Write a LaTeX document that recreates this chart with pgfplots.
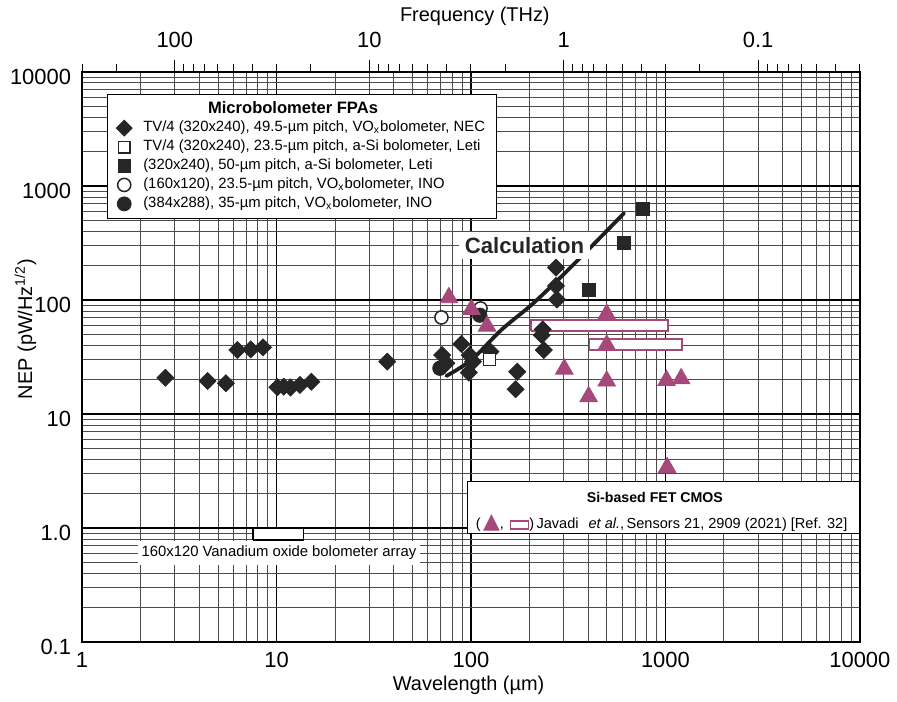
\documentclass[border=0pt]{standalone}
\usepackage{fontspec}
\setmainfont{Liberation Sans}
\newfontfamily\symfont{DejaVu Sans}
\usepackage{pgfplots}
\pgfplotsset{compat=1.18}
\definecolor{MarkBlack}{RGB}{38,38,40}
\definecolor{CmosPink}{RGB}{165,73,123}
\newcommand{\legfont}{\fontsize{7.45}{8.6}\selectfont}
\newcommand{\cmosfont}{\fontsize{7.3}{8.5}\selectfont}
\newcommand{\tickfont}{\fontsize{11}{13}\selectfont}

\begin{document}
\begin{tikzpicture}
\begin{axis}[
  name=main,
  set layers=standard,
  scale only axis, width=390pt, height=286pt,
  xmode=log, ymode=log,
  xmin=1, xmax=10000, ymin=0.1, ymax=10000,
  xtick={1,10,100,1000,10000}, xticklabels={1,10,100,1000,10000},
  ytick={0.1,1,10,100,1000,10000}, yticklabels={0.1,1.0,10,100,1000,10000},
  minor xtick={2,3,...,9,20,30,...,90,200,300,...,900,2000,3000,...,9000},
  minor ytick={0.2,0.3,0.4,0.5,0.6,0.7,0.8,0.9,2,3,...,9,20,30,...,90,200,300,...,900,2000,3000,...,9000},
  grid=both,
  major grid style={black, line width=0.9pt},
  minor grid style={black!70, line width=0.45pt},
  tick style={draw=none},
  axis line style={black, line width=0.8pt},
  tick label style={font=\tickfont},
  yticklabel style={yshift=-2.5pt},
  yticklabel shift=2pt,
  xticklabel shift=1.5pt,
  xlabel={Wavelength (µm)},
  ylabel={NEP (pW/Hz\textsuperscript{1/2})},
  label style={font=\fontsize{11}{13}\selectfont},
  every axis x label/.style={at={(axis description cs:0.497,-0.0752)}, anchor=center},
  every axis y label/.style={at={(axis description cs:-0.0728,0.549)}, rotate=90, anchor=center},
  legend image code/.code={\draw[#1] plot coordinates {(0pt,0pt)};},
  legend cell align=left,
  legend style={at={(0.032,0.961)}, anchor=north west, draw=black, fill=white,
    font=\legfont, inner xsep=4.5pt, inner ysep=2.6pt, row sep=0pt, column sep=4.4pt,
    nodes={inner sep=1.2pt, text height=5.5pt, text depth=1.6pt}},
]
% magenta rectangles (Javadi et al.)
\addplot[CmosPink, line width=0.75pt, fill=white, forget plot] coordinates {(204,53.4) (1030,53.4) (1030,66.6) (204,66.6) (204,53.4)};
\addplot[CmosPink, line width=0.75pt, fill=white, forget plot] coordinates {(406,36.4) (1219,36.4) (1219,45.7) (406,45.7) (406,36.4)};
% 160x120 VOx array box
\addplot[black, line width=0.7pt, fill=white, forget plot] coordinates {(7.57,0.79) (13.8,0.79) (13.8,0.99) (7.57,0.99) (7.57,0.79)};
% open circles, INO 160x120
\addplot[only marks, mark=*, mark size=3.3pt, mark options={fill=white, draw=MarkBlack, line width=0.75pt}, forget plot] coordinates {(70.5,70.3) (112,84.3)};
% filled circles, INO 384x288
\addplot[only marks, mark=*, mark size=3.6pt, mark options={fill=MarkBlack, draw=MarkBlack}, forget plot] coordinates {(69.2,25.2) (111,73.6)};
% diamonds, NEC
\addplot[only marks, mark=square*, mark size=3pt, mark options={rotate=45, fill=MarkBlack, draw=MarkBlack}, forget plot] coordinates {
(2.68,20.8) (4.42,19.5) (5.49,18.6) (6.29,36.4) (7.37,36.9) (8.52,38.5)
(10.1,17.2) (10.9,17.4) (11.8,17.1) (13.2,18.0) (15.1,19.2) (37.1,28.8)
(71.1,32.9) (74.8,27.9) (89.3,41.1) (98.6,32.9) (102.5,28.8) (97.5,23.1)
(126,35.2) (173,23.5) (169.6,16.5) (273.6,192) (273.6,133) (277,101)
(234,55.2) (231,49.2) (237,36.4)};
% open square, Leti a-Si
\addplot[only marks, mark=square*, mark size=3pt, mark options={fill=white, draw=MarkBlack, line width=0.75pt}, forget plot] coordinates {(124.8,30.2)};
% filled squares, Leti 50 um
\addplot[only marks, mark=square*, mark size=3.25pt, mark options={fill=MarkBlack, draw=MarkBlack}, forget plot] coordinates {(405,122) (613,318) (767,631)};
% triangles, Si FET CMOS
\addplot[only marks, mark=triangle*, mark size=5.1pt, mark options={fill=CmosPink, draw=CmosPink}, forget plot] coordinates {
(77,105) (100.5,82.6) (121,59) (302,24.8) (403,14.2) (499,75.2) (499,40.3) (499,19.5)
(1013,19.7) (1205,20.4) (1021,3.4)};
% calculation
\addplot[black!88, line width=1.9pt, smooth, line cap=round, line join=round, forget plot] coordinates {
(74.8,21.6) (100.5,29.8) (143,54.5) (204,90.1) (279,149) (398,272) (613,577)};

\addlegendimage{empty legend}
\addlegendentry{\hspace*{32.5pt}\fontsize{8.3}{9}\selectfont\bfseries Microbolometer FPAs}
\addlegendimage{mark=square*, mark size=2.8pt, mark options={rotate=45, fill=MarkBlack, draw=MarkBlack}}
\addlegendentry{TV/4 (320x240), 49.5-µm pitch, VO\textsubscript{x}bolometer, NEC}
\addlegendimage{mark=square*, mark size=2.9pt, mark options={fill=white, draw=MarkBlack, line width=0.75pt}}
\addlegendentry{TV/4 (320x240), 23.5-µm pitch, a-Si bolometer, Leti}
\addlegendimage{mark=square*, mark size=3.1pt, mark options={fill=MarkBlack, draw=MarkBlack}}
\addlegendentry{(320x240), 50-µm pitch, a-Si bolometer, Leti}
\addlegendimage{mark=*, mark size=3.3pt, mark options={fill=white, draw=MarkBlack, line width=0.75pt}}
\addlegendentry{(160x120), 23.5-µm pitch, VO\textsubscript{x}bolometer, INO}
\addlegendimage{mark=*, mark size=3.5pt, mark options={fill=MarkBlack, draw=MarkBlack}}
\addlegendentry{(384x288), 35-µm pitch, VO\textsubscript{x}bolometer, INO}

\node[fill=white, inner sep=0pt, minimum width=65.9pt, minimum height=13.3pt,
  font=\fontsize{11.1}{13}\selectfont\bfseries, text=MarkBlack] at (axis cs:188.6,301) {Calculation};
\node[fill=white, inner xsep=2pt, inner ysep=2.4pt, font=\legfont] at (axis cs:10.29,0.608) {160x120 Vanadium oxide bolometer array};

\node[draw=black, fill=white, anchor=north west, minimum width=196.7pt, minimum height=26.2pt, inner sep=0pt]
  (leg2) at (rel axis cs:0.4949,0.2832) {};
\node[font=\fontsize{7.1}{8}\selectfont\bfseries] at ([xshift=94.2pt, yshift=-8.35pt]leg2.north west) {Si-based FET CMOS};
\node[font=\cmosfont, anchor=west, inner sep=0pt] at ([xshift=4.2pt, yshift=-21.15pt]leg2.north west)
  {(\,{\symfont\fontsize{11}{11}\selectfont\color{CmosPink}▲},\hspace{3pt}{\color{CmosPink}\fboxrule=0.75pt\fboxsep=0pt\fbox{\rule{0pt}{3.3pt}\hspace{8.2pt}}})\,Javadi\hspace{5pt}\textit{et al.},\,Sensors 21, 2909 (2021) [Ref. 32]};
\end{axis}

\begin{axis}[
  scale only axis, width=390pt, height=286pt,
  at={(main.south west)}, anchor=south west,
  xmode=log, x dir=reverse, xmin=0.03, xmax=300,
  ymin=0, ymax=1,
  axis x line*=top, axis y line=none,
  axis line style={-, black, line width=0.8pt},
  xtick={0.1,1,10,100}, xticklabels={0.1,1,10,100},
  minor xtick={0.03,0.04,0.05,0.06,0.07,0.08,0.09,0.2,0.3,0.4,0.5,0.6,0.7,0.8,0.9,2,3,...,9,20,30,...,90,200,300},
  tick align=outside, major tick length=6pt, minor tick length=4pt,
  tick style={black, line width=0.5pt},
  tick label style={font=\tickfont},
  xticklabel shift=2.5pt,
  xlabel={Frequency (THz)},
  label style={font=\fontsize{11}{13}\selectfont},
  every axis x label/.style={at={(axis description cs:0.505,1.098)}, anchor=center},
]
\end{axis}
\path ([shift={(-41.15pt,-29pt)}]main.south west) rectangle ++(448.5pt,350.5pt);
\end{tikzpicture}
\end{document}
